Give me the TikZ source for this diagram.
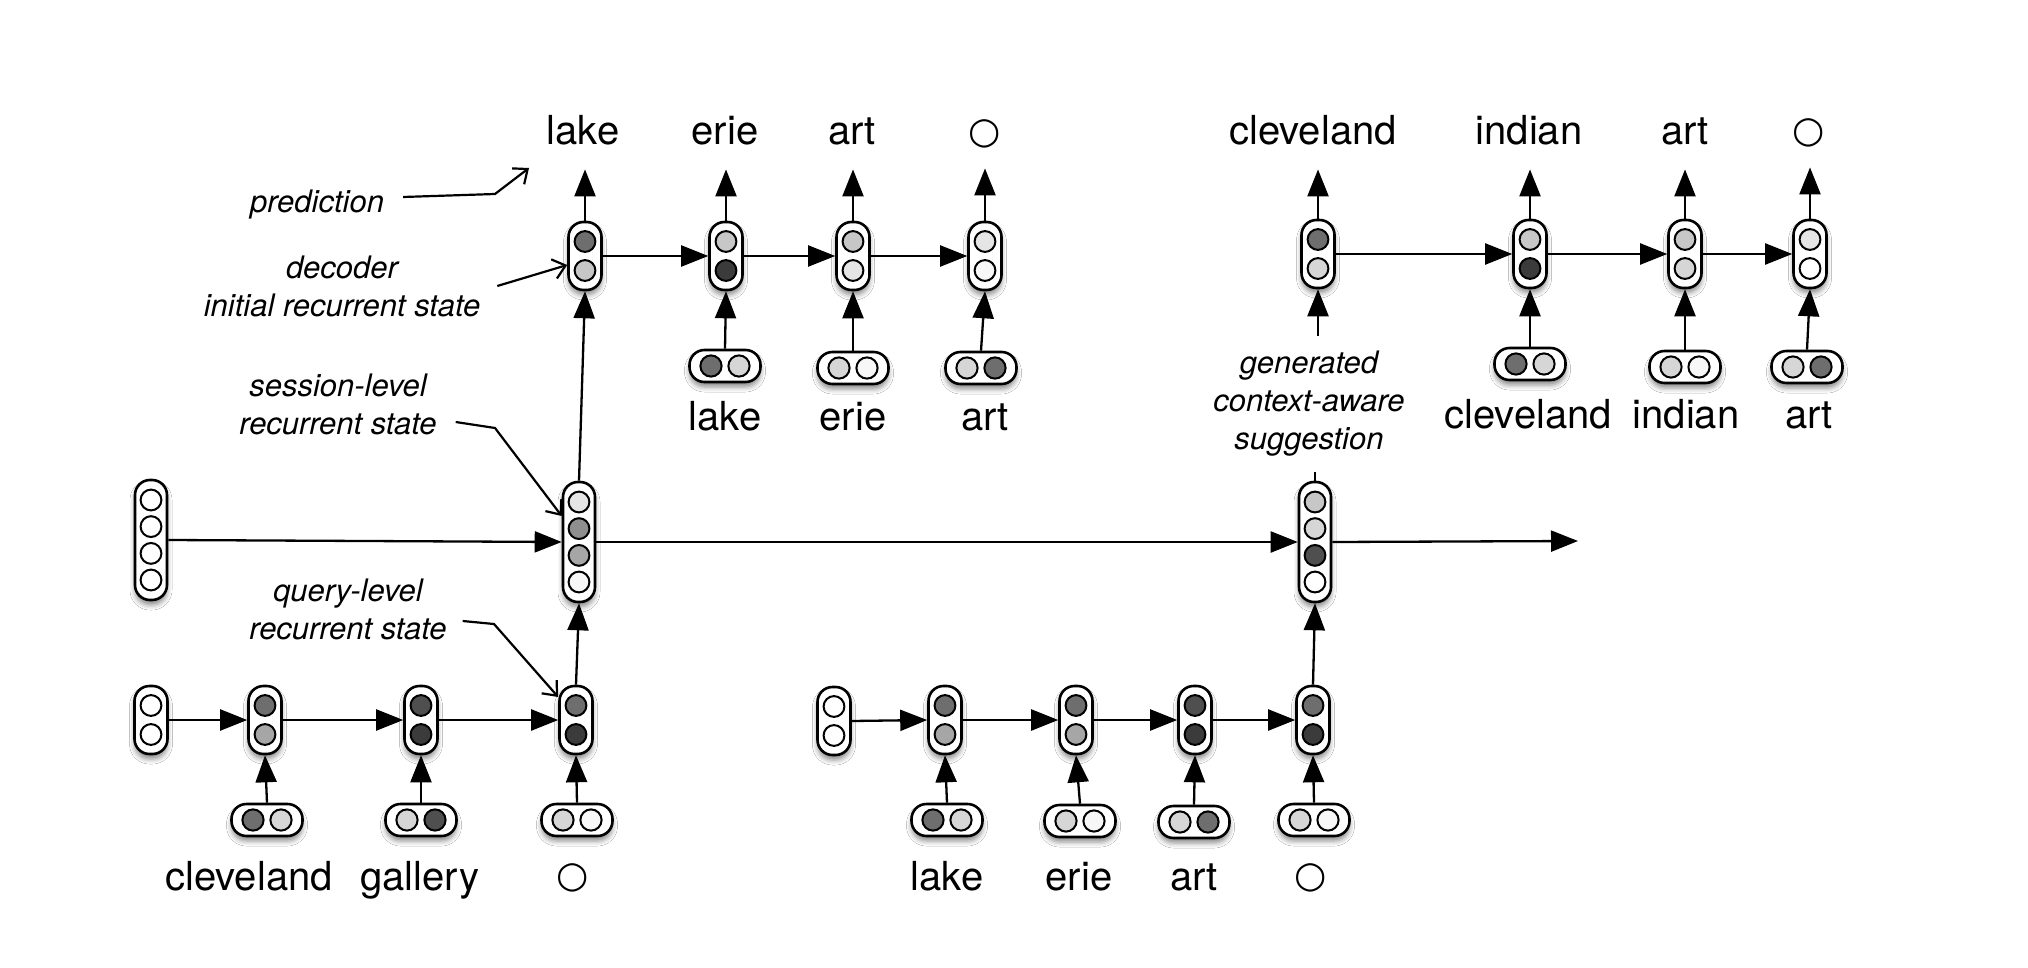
\documentclass[tikz,border=0pt]{standalone}
\usepackage{fontspec}
\setmainfont{TeX Gyre Heros}
\newfontfamily\symfont{DejaVu Sans}
\usetikzlibrary{arrows.meta,shadows.blur}
\definecolor{dk}{gray}{0.43}
\definecolor{vdk}{gray}{0.23}
\definecolor{dktwo}{gray}{0.31}
\definecolor{md}{gray}{0.65}
\definecolor{mdtwo}{gray}{0.56}
\definecolor{lt}{gray}{0.78}
\definecolor{lttwo}{gray}{0.84}
\definecolor{vlt}{gray}{0.90}
\definecolor{wh}{gray}{0.97}
\tikzset{
  pillbase/.style={draw, line width=1.3pt, fill=white, rounded corners=7.5pt, inner sep=0pt,
    blur shadow={shadow xshift=0pt, shadow yshift=-2.5pt, shadow blur radius=2.5pt, shadow opacity=45}},
  vpill/.style={pillbase, minimum width=16.5pt, minimum height=34pt},
  spill/.style={pillbase, minimum width=16pt, minimum height=60pt},
  hpill/.style={pillbase, minimum width=35.5pt, minimum height=16pt},
  circ/.style={draw, line width=1pt},
  arr/.style={line width=1.15pt, -{Triangle[length=13.5pt,width=10.5pt]}},
  plain/.style={line width=1.15pt},
  ann/.style={line width=1.1pt, -{Straight Barb[length=6pt,width=10pt]}},
  word/.style={font=\fontsize{20}{24}\selectfont, anchor=base, text depth=0pt, inner ysep=12pt, inner xsep=0pt},
  eos/.style={font=\symfont\fontsize{18.5}{22}\selectfont, anchor=base, text depth=0pt, inner ysep=12pt, inner xsep=0pt},
  note/.style={font=\itshape\fontsize{15.5}{19}\selectfont, align=center}
}
\newcommand\VCell[5]{%
  \node[vpill] (#1) at (#2,#3) {};
  \filldraw[circ, fill=#4] ([yshift=7.25pt]#1.center) circle[radius=5.2pt];
  \filldraw[circ, fill=#5] ([yshift=-7.25pt]#1.center) circle[radius=5.2pt];
}
\newcommand\HCell[5]{%
  \node[hpill] (#1) at (#2,#3) {};
  \filldraw[circ, fill=#4] ([xshift=-7pt]#1.center) circle[radius=5.3pt];
  \filldraw[circ, fill=#5] ([xshift=7pt]#1.center) circle[radius=5.3pt];
}
\newcommand\SCell[7]{%
  \node[spill] (#1) at (#2,#3) {};
  \filldraw[circ, fill=#4] ([yshift=20pt]#1.center) circle[radius=5.2pt];
  \filldraw[circ, fill=#5] ([yshift=6.7pt]#1.center) circle[radius=5.2pt];
  \filldraw[circ, fill=#6] ([yshift=-6.7pt]#1.center) circle[radius=5.2pt];
  \filldraw[circ, fill=#7] ([yshift=-20pt]#1.center) circle[radius=5.2pt];
}
\begin{document}
\begin{tikzpicture}[x=0.5pt,y=-0.5pt]
\fill[white] (0,0) rectangle (2028,968);
\useasboundingbox (0,0) rectangle (2028,968);

% ---------- first decoder ----------
\VCell{d1}{585}{256}{dk}{lt}
\VCell{d2}{726}{256}{lt}{vdk}
\VCell{d3}{853}{256}{lt}{vlt}
\VCell{d4}{985}{256}{vlt}{wh}
\HCell{i2}{725}{366}{dk}{lttwo}
\HCell{i3}{853}{368}{lttwo}{wh}
\HCell{i4}{981}{368}{lttwo}{dk}
\node[word] (t1) at (583,145) {lake};
\node[word] (t2) at (725,145) {erie};
\node[word] (t3) at (852,145) {art};
\node[eos]  (t4) at (985,144) {○};
\node[word] (u2) at (725,430) {lake};
\node[word] (u3) at (853,430) {erie};
\node[word] (u4) at (985,430) {art};

% ---------- second decoder ----------
\VCell{e1}{1318}{254}{dk}{lttwo}
\VCell{e2}{1530}{254}{lt}{vdk}
\VCell{e3}{1685}{254}{lt}{lttwo}
\VCell{e4}{1810}{254}{vlt}{white}
\HCell{j2}{1530}{364}{dk}{lttwo}
\HCell{j3}{1685}{367}{lttwo}{wh}
\HCell{j4}{1807}{367}{lttwo}{dk}
\node[word] (w1) at (1313,145) {cleveland};
\node[word] (w2) at (1529,145) {indian};
\node[word] (w3) at (1685,145) {art};
\node[eos]  (w4) at (1809,143) {○};
\node[word] (v2) at (1528,428) {cleveland};
\node[word] (v3) at (1686,428) {indian};
\node[word] (v4) at (1809,428) {art};

% ---------- session level ----------
\SCell{s0}{151}{540}{white}{white}{white}{white}
\SCell{s1}{579}{542}{vlt}{mdtwo}{md}{wh}
\SCell{s2}{1315}{542}{lt}{lttwo}{dktwo}{white}
\coordinate (send) at (1578,541);

% ---------- first query ----------
\VCell{q0}{151}{720}{white}{white}
\VCell{q1}{265}{720}{dk}{md}
\VCell{q2}{421}{720}{dktwo}{vdk}
\VCell{q3}{576}{720}{dk}{vdk}
\HCell{a1}{267}{820}{dk}{lttwo}
\HCell{a2}{421}{820}{lttwo}{dktwo}
\HCell{a3}{577}{820}{lttwo}{wh}
\node[word] (x1) at (249,890) {cleveland};
\node[word] (x2) at (420,890) {gallery};
\node[eos]  (x3) at (573,887) {○};

% ---------- second query ----------
\VCell{r0}{834}{721}{white}{white}
\VCell{r1}{945}{720}{dk}{md}
\VCell{r2}{1076}{720}{dk}{md}
\VCell{r3}{1195}{720}{dktwo}{vdk}
\VCell{r4}{1313}{720}{dk}{vdk}
\HCell{b1}{947}{820}{dk}{lttwo}
\HCell{b2}{1080}{821}{lttwo}{wh}
\HCell{b3}{1194}{822}{lttwo}{dk}
\HCell{b4}{1314}{820}{lttwo}{wh}
\node[word] (y1) at (947,890) {lake};
\node[word] (y2) at (1079,890) {erie};
\node[word] (y3) at (1194,890) {art};
\node[eos]  (y4) at (1311,887) {○};

% ---------- annotations ----------
\node[note, anchor=base] (pred) at (317,213) {prediction};
\node[note] (dec) at (342,286) {decoder\\initial recurrent state};
\node[note] (ses) at (338,404) {session-level\\recurrent state};
\node[note] (qry) at (348,609) {query-level\\recurrent state};
\node[note, inner ysep=7.5pt] (gen) at (1309,404) {generated\\context-aware\\suggestion};

\draw[ann] ([xshift=6pt,yshift=4pt]pred.east) -- (495,194) -- (529,168);
\draw[ann] ([xshift=5pt]dec.east) -- ([yshift=-4.5pt]d1.west);
\draw[ann] ([xshift=6pt,yshift=-9pt]ses.east) -- (495,428) -- ([yshift=13pt]s1.west);
\draw[ann] ([xshift=4.5pt,yshift=-6pt]qry.east) -- (494,624) -- ([yshift=11.5pt]q3.west);

% ---------- connectors ----------
\foreach \a/\b in {d1/d2,d2/d3,d3/d4,e1/e2,e2/e3,e3/e4,s0/s1,s1/s2,q0/q1,q1/q2,q2/q3,r0/r1,r1/r2,r2/r3,r3/r4}
  \draw[arr] (\a.east) -- (\b.west);
\draw[arr] (s2.east) -- (send);
\foreach \c/\t in {d1/t1,d2/t2,d3/t3,d4/t4,e1/w1,e2/w2,e3/w3,e4/w4}
  \draw[arr] (\c.north) -- (\c.north |- \t.south);
\foreach \i/\c in {i2/d2,i3/d3,i4/d4,j2/e2,j3/e3,j4/e4,a1/q1,a2/q2,a3/q3,b1/r1,b2/r2,b3/r3,b4/r4}
  \draw[arr] (\i.north) -- (\c.south);
\draw[arr] (s1.north) -- (d1.south);
\draw[arr] (q3.north) -- (s1.south);
\draw[arr] (r4.north) -- (s2.south);
\draw[plain] (s2.north) -- (s2.north |- gen.south);
\draw[arr] (e1.south |- gen.north) -- (e1.south);
\end{tikzpicture}
\end{document}
